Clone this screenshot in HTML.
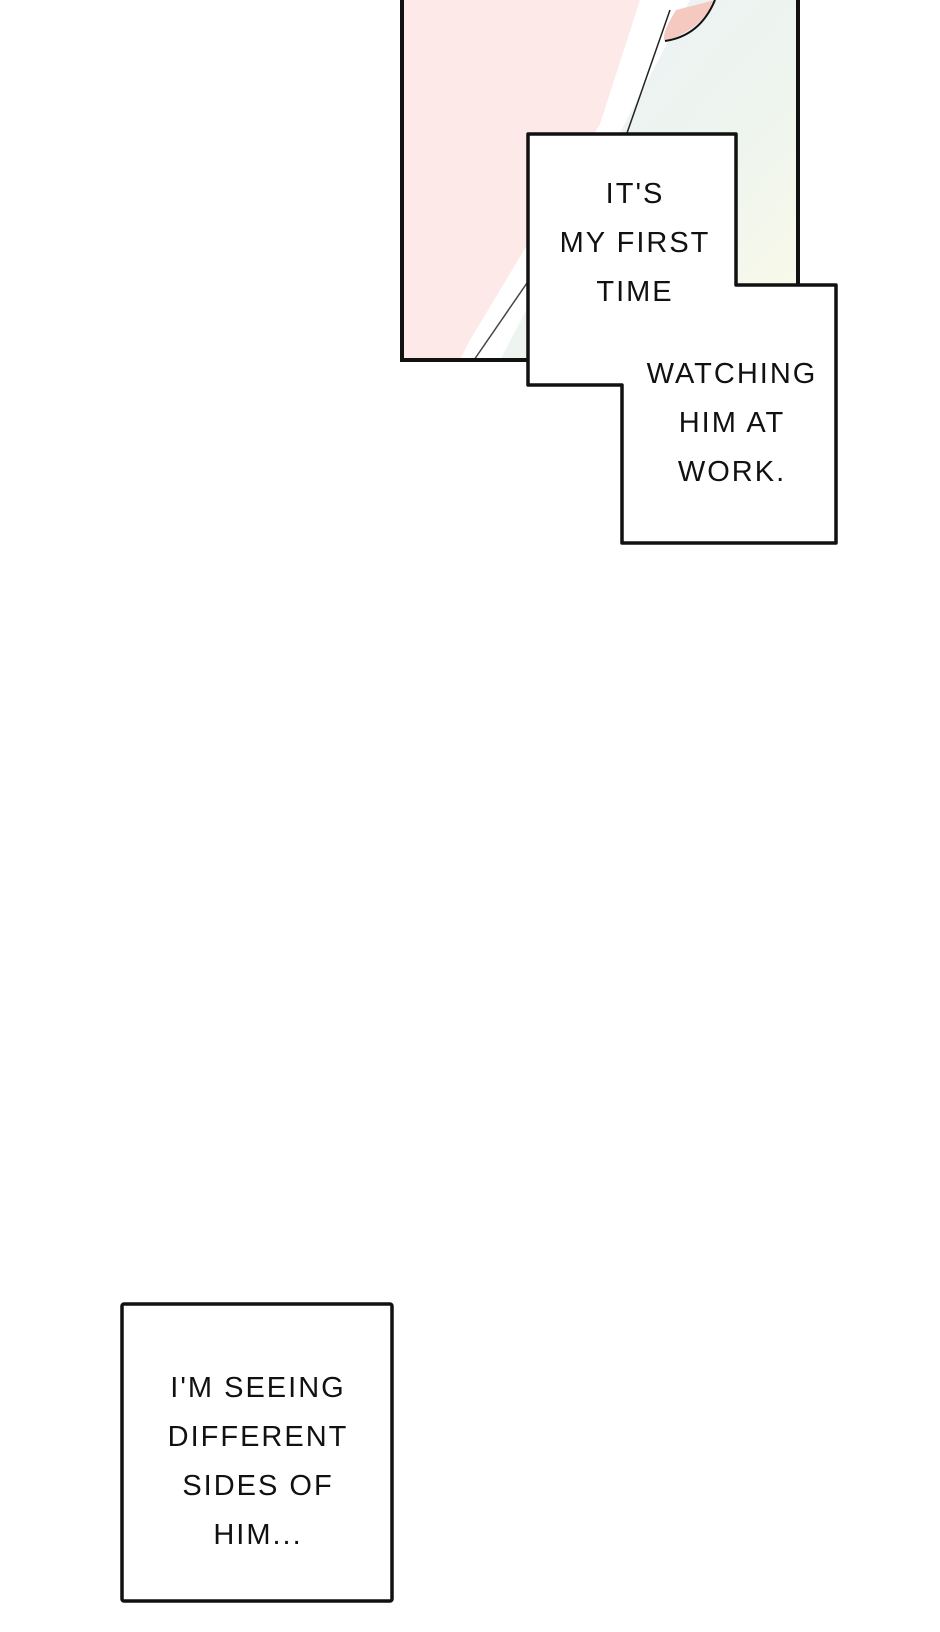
<!DOCTYPE html>
<html><head><style>
html,body{margin:0;padding:0;background:#fff;}
body{width:940px;height:1632px;position:relative;overflow:hidden;}
.t{position:absolute;font-family:"Liberation Sans",sans-serif;font-size:29px;letter-spacing:2px;color:#111;text-align:center;line-height:49px;white-space:nowrap;transform:translateX(-50%);}
</style></head><body>
<svg width="940" height="1632" style="position:absolute;left:0;top:0">
<defs>
<linearGradient id="bl" x1="0" y1="0" x2="1" y2="1">
<stop offset="0" stop-color="#eaf2f8"/><stop offset="0.6" stop-color="#eef4ee"/><stop offset="1" stop-color="#fbfbe8"/>
</linearGradient>
</defs>
<rect x="402" y="0" width="396" height="360" fill="#fde9e7"/>
<polygon points="680,0 798,0 798,360 470,360" fill="url(#bl)"/>
<polygon points="640,0 690,0 500,360 460,360 470,340 600,124" fill="#ffffff"/>
<path d="M676,10 Q660,36 665,41 Q700,31 715,0 Z" fill="#f6c9c0"/>
<path d="M665,41 Q700,36 715,0" stroke="#111" stroke-width="2" fill="none"/>
<line x1="670" y1="10" x2="627" y2="133" stroke="#222" stroke-width="1.5"/>
<line x1="527" y1="283" x2="474" y2="360" stroke="#444" stroke-width="1.5"/>
<rect x="402" y="-5" width="396" height="365" fill="none" stroke="#111" stroke-width="4"/>
<path d="M528,134 H736 V285 H836 V543 H622 V385 H528 Z" fill="#fff" stroke="#111" stroke-width="3.5" stroke-linejoin="round"/>
<rect x="122" y="1304" width="270" height="297" fill="#fff" stroke="#111" stroke-width="3.5" rx="2"/>
</svg>
<div class="t" style="left:635px;top:170px">IT'S<br>MY FIRST<br>TIME</div>
<div class="t" style="left:732px;top:350px">WATCHING<br>HIM AT<br>WORK.</div>
<div class="t" style="left:258px;top:1364px;line-height:49px">I'M SEEING<br>DIFFERENT<br>SIDES OF<br>HIM...</div>
</body></html>
